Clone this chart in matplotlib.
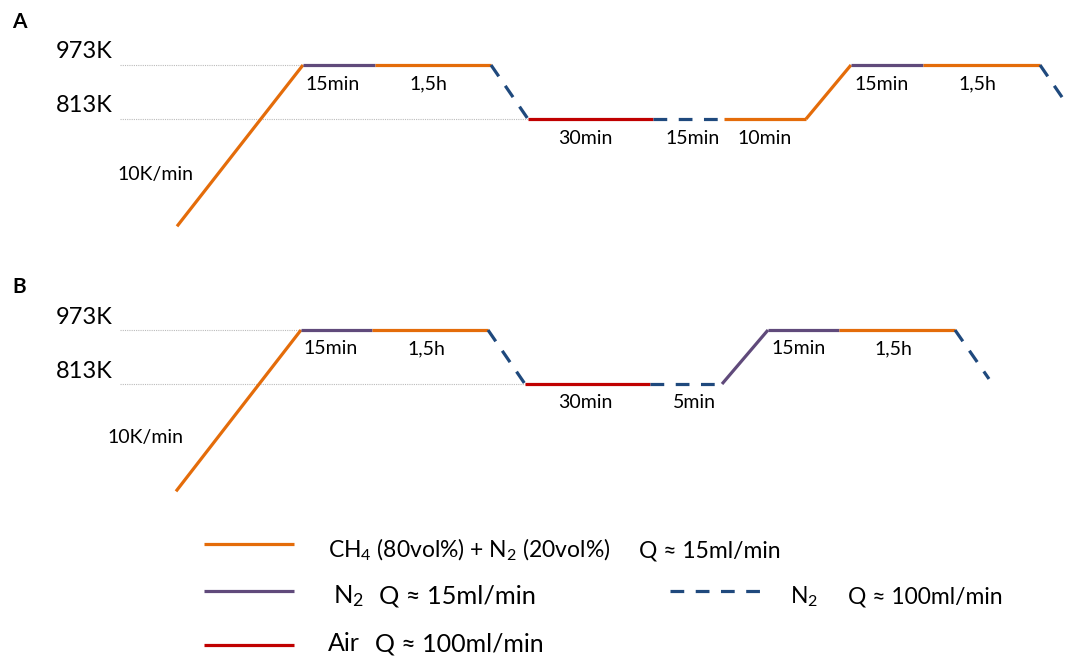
import matplotlib
matplotlib.use("Agg")
import matplotlib.pyplot as plt

plt.rcParams['font.family'] = ['Lato', 'DejaVu Sans']
plt.rcParams['mathtext.fontset'] = 'custom'
plt.rcParams['mathtext.rm'] = 'Lato'
plt.rcParams['mathtext.default'] = 'regular'

# Temperature levels (K)
T_HIGH = 973
T_LOW = 813
T_START = 495

# Schematic time axis (breakpoints) and temperatures for each programme
x_A = [177, 303, 375, 491, 528, 653, 724, 806, 851, 923, 1040, 1077]
T_A = [T_START, T_HIGH, T_HIGH, T_HIGH, T_LOW, T_LOW, T_LOW, T_LOW, T_HIGH, T_HIGH, T_HIGH, T_LOW]
gas_A = ['mix', 'n2', 'mix', 'n2fast', 'air', 'n2fast', 'mix', 'mix', 'n2', 'mix', 'n2fast']
steps_A = ['15min', '1,5h', '30min', '15min', '10min', '15min', '1,5h']

x_B = [176, 301, 372, 488, 525, 650, 722, 768, 839, 955, 989]
T_B = [T_START, T_HIGH, T_HIGH, T_HIGH, T_LOW, T_LOW, T_LOW, T_HIGH, T_HIGH, T_HIGH, 828]
gas_B = ['mix', 'n2', 'mix', 'n2fast', 'air', 'n2fast', 'n2', 'n2', 'mix', 'n2fast']
steps_B = ['15min', '1,5h', '30min', '5min', '15min', '1,5h']

ramp_label = '10K/min'

# gas -> (colour, linestyle)
styles = {
    'mix': ('#E46C0A', '-'),
    'n2': ('#604A7B', '-'),
    'air': ('#C00000', '-'),
    'n2fast': ('#1F497D', (0, (4.3, 3.6))),
}

legend_rows = [
    ('mix', 'CH$_4$ (80vol%) + N$_2$ (20vol%)', 'Q ≈ 15ml/min'),
    ('n2', 'N$_2$', 'Q ≈ 15ml/min'),
    ('air', 'Air', 'Q ≈ 100ml/min'),
    ('n2fast', 'N$_2$', 'Q ≈ 100ml/min'),
]

W, H = 1067, 659
fig = plt.figure(figsize=(W / 100, H / 100), dpi=100)

LW = 2.3
K_PER_PX = 160 / 54
YLIM = (T_LOW - 131 * K_PER_PX, T_HIGH + 65 * K_PER_PX)


def draw_panel(top_px, letter, xs, Ts, gases, steps, step_pos, ramp_pos):
    ax = fig.add_axes([0, 1 - (top_px + 250) / H, 1, 250 / H])
    ax.set_xlim(0, W)
    ax.set_ylim(*YLIM)
    ax.axis('off')

    # thin guide lines for the two set points
    first_high = xs[Ts.index(T_HIGH)]
    first_low = xs[Ts.index(T_LOW)]
    ax.plot([120, first_high], [T_HIGH, T_HIGH], color='#BBBBBB', lw=0.8, ls=(0, (1, 1)), zorder=1)
    ax.plot([120, first_low], [T_LOW, T_LOW], color='#BBBBBB', lw=0.8, ls=(0, (1, 1)), zorder=1)

    for i, g in enumerate(gases):
        c, ls = styles[g]
        ax.plot(xs[i:i + 2], Ts[i:i + 2], color=c, ls=ls, lw=LW,
                solid_capstyle='butt', dash_capstyle='butt', zorder=3)

    for T in (T_HIGH, T_LOW):
        ax.annotate(f'{T}K', (84, T), xytext=(0, 13), textcoords='offset pixels',
                    ha='center', va='center', fontsize=17)

    ax.annotate(letter, (19, T_HIGH), xytext=(0, 43), textcoords='offset pixels',
                ha='center', va='center', fontsize=15, fontweight='bold')

    for txt, (px, T) in zip(steps, step_pos):
        ax.annotate(txt, (px, T), xytext=(0, -19), textcoords='offset pixels',
                    ha='center', va='center', fontsize=14)
    ax.annotate(ramp_label, ramp_pos, ha='center', va='center', fontsize=14)
    return ax


axA = draw_panel(0, 'A', x_A, T_A, gas_A, steps_A,
                 [(333, T_HIGH), (428, T_HIGH), (585, T_LOW), (693, T_LOW), (765, T_LOW),
                  (882, T_HIGH), (977, T_HIGH)],
                 (155, T_LOW - 56 * K_PER_PX))

axB = draw_panel(265, 'B', x_B, T_B, gas_B, steps_B,
                 [(331, T_HIGH), (426, T_HIGH), (585, T_LOW), (694, T_LOW),
                  (799, T_HIGH), (893, T_HIGH)],
                 (145, T_LOW - 54 * K_PER_PX))

# legend block
axL = fig.add_axes([0, 0, 1, 144 / H])
axL.set_xlim(0, W)
axL.set_ylim(H, H - 144)
axL.axis('off')

handle_pos = [(204, 544), (204, 591), (204, 645), (670, 591)]
text_pos = [(328, 639), (333, 379), (328, 375), (790, 848)]
baselines = [557, 603, 651, 603]
text_size = [16.5, 18.3, 18, 16.5]
for (g, name, flow), (hx, hy), (tx1, tx2), by, fs in zip(legend_rows, handle_pos, text_pos,
                                                          baselines, text_size):
    c, ls = styles[g]
    axL.plot([hx, hx + 90], [hy, hy], color=c, ls=ls, lw=LW,
             solid_capstyle='butt', dash_capstyle='butt')
    axL.text(tx1, by, name, ha='left', va='baseline', fontsize=fs)
    axL.text(tx2, by, flow, ha='left', va='baseline', fontsize=fs)

fig.savefig('out.png', dpi=100)
